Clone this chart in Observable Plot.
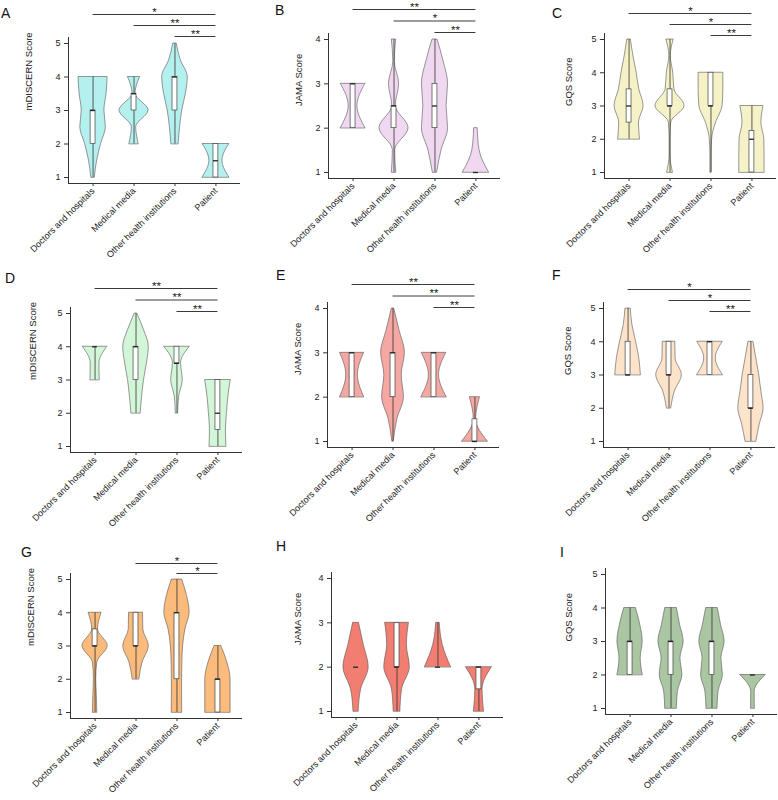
<!DOCTYPE html>
<html><head><meta charset="utf-8">
<script src="https://cdn.jsdelivr.net/npm/d3@7"></script>
<script src="https://cdn.jsdelivr.net/npm/@observablehq/plot@0.6"></script>
<style>
html,body{margin:0;padding:0;background:#fff;overflow:hidden;}
#wrap{position:relative;width:778px;height:800px;font-family:"Liberation Sans",Arial,sans-serif;}
.panel{position:absolute;}
#letters{position:absolute;left:0;top:0;}
</style></head><body><div id="wrap"></div>
<script>
// ---------- DATA ----------
const categories = ["Doctors and hospitals", "Medical media", "Other health institutions", "Patient"];
const panelIds = ["A","B","C","D","E","F","G","H","I"];
const scoreLabels = ["mDISCERN Score", "JAMA Score", "GQS Score"]; // by column
const ticks5 = [1, 2, 3, 4, 5];
const ticks4 = [1, 2, 3, 4];
const fills = ["#b4f0ee", "#efd8f0", "#f4f2c6", "#d3f6d8", "#f4a7a3", "#fde3c9", "#fabb7c", "#f27e72", "#aac6a2"];

// violin profiles: relative half-widths at 0.5-score steps, starting at the violin minimum
const minA = [1, 2, 2, 1];
const densA = [[0.12, 0.28, 0.55, 0.88, 0.78, 0.93, 1.0], [0.32, 0.15, 1.0, 0.1, 0.42], [0.25, 0.35, 0.5, 0.75, 0.88, 0.4, 0.12], [0.92, 0.45, 0.92]];
const boxA = [[1, 2, 3, 3, 4], [2, 3, 3.5, 3.5, 4], [2, 3, 4, 4, 5], [1, 1, 1.5, 2, 2]]; // lo, q1, median, q3, hi
const sigA = [[1, 4, "*"], [2, 4, "**"], [3, 4, "**"]];

const minB = [2, 1, 1, 1];
const densB = [[0.85, 0.3, 0.85], [0.15, 0.08, 1.0, 0.12, 0.35, 0.05, 0.15], [0.15, 0.45, 0.9, 0.8, 0.9, 0.6, 0.17], [0.9, 0.25, 0.12]];
const boxB = [[2, 2, 3, 3, 3], [1, 2, 2.5, 2.5, 4], [1, 2, 2.5, 3, 4], [1, 1, 1, 1, 1]];
const sigB = [[1, 4, "**"], [2, 4, "*"], [3, 4, "**"]];

const minC = [2, 1, 1, 1];
const densC = [[0.75, 0.68, 1.0, 0.7, 0.52, 0.3, 0.12], [0.2, 0.03, 0.03, 0.08, 1.0, 0.3, 0.22, 0.05, 0.25], [0.04, 0.04, 0.08, 0.35, 0.8, 0.85, 0.85], [0.87, 0.87, 0.85, 0.65, 0.8]];
const boxC = [[2, 2.5, 3, 3.5, 5], [1, 3, 3, 3.5, 5], [1, 3, 3, 4, 4], [1, 1, 2, 2.25, 3]];
const sigC = [[1, 4, "*"], [2, 4, "*"], [3, 4, "**"]];

const minD = [3, 2, 2, 1];
const densD = [[0.32, 0.3, 0.85], [0.32, 0.42, 0.55, 0.75, 0.88, 0.55, 0.08], [0.08, 0.15, 0.4, 0.28, 0.88], [0.58, 0.55, 0.62, 0.72, 0.88]];
const boxD = [[3, 4, 4, 4, 4], [2, 3, 4, 4, 5], [2, 3.5, 3.5, 4, 4], [1, 1.5, 2, 3, 3]];
const sigD = [[1, 4, "**"], [2, 4, "**"], [3, 4, "**"]];

const minE = [2, 1, 2, 1];
const densE = [[0.83, 0.4, 0.83], [0.05, 0.3, 0.75, 0.6, 0.82, 0.45, 0.08], [0.87, 0.35, 0.85], [0.88, 0.08, 0.35]];
const boxE = [[2, 2, 3, 3, 3], [1, 2, 3, 3, 4], [2, 2, 3, 3, 3], [1, 1, 1, 1.5, 2]];
const sigE = [[1, 4, "**"], [2, 4, "**"], [3, 4, "**"]];

const minF = [3, 2, 3, 1];
const densF = [[0.88, 0.77, 0.55, 0.3, 0.18], [0.15, 0.4, 0.88, 0.45, 0.43], [0.88, 0.4, 0.88], [0.37, 0.6, 0.87, 0.72, 0.57, 0.37, 0.17]];
const boxF = [[3, 3, 3, 4, 5], [2, 3, 3, 4, 4], [3, 3, 4, 4, 4], [1, 2, 2, 3, 4]];
const sigF = [[1, 4, "*"], [2, 4, "*"], [3, 4, "**"]];

const minG = [1, 2, 1, 1];
const densG = [[0.15, 0.12, 0.08, 0.15, 0.87, 0.2, 0.45], [0.23, 0.45, 0.88, 0.5, 0.48], [0.36, 0.35, 0.35, 0.37, 0.42, 0.58, 0.87, 0.7, 0.35], [0.87, 0.87, 0.87, 0.65, 0.23]];
const boxG = [[1, 3, 3, 3.5, 4], [2, 3, 3, 4, 4], [1, 2, 4, 4, 5], [1, 1, 2, 2, 3]];
const sigG = [[2, 4, "*"], [3, 4, "*"]];

const minH = [1, 1, 2, 1];
const densH = [[0.18, 0.35, 0.87, 0.53, 0.2], [0.23, 0.35, 0.88, 0.68, 0.82], [0.9, 0.33, 0.12], [0.35, 0.25, 0.9]];
const boxH = [[2, 2, 2, 2, 2], [1, 2, 2, 3, 3], [2, 2, 2, 2, 3], [1, 1.5, 2, 2, 2]];
const sigH = [];

const minI = [2, 1, 1, 1];
const densI = [[0.87, 0.73, 0.87, 0.7, 0.4], [0.4, 0.47, 0.78, 0.65, 0.87, 0.62, 0.4], [0.38, 0.45, 0.75, 0.65, 0.87, 0.62, 0.4], [0.13, 0.12, 0.88]];
const boxI = [[2, 2, 3, 3, 4], [1, 2, 3, 3, 4], [1, 2, 3, 3, 4], [2, 2, 2, 2, 2]];
const sigI = [];

// ---------- LAYOUT (page pixels) ----------
const layout = {
  A: {ax: 68,  top: 43,  bot: 177, lab: 40, bBase: 7,  bStep: 11,   let: [1, 18]},
  B: {ax: 328, top: 39,  bot: 172, lab: 30, bBase: 7,  bStep: 11.5, let: [275, 15]},
  C: {ax: 604, top: 39,  bot: 172, lab: 36, bBase: 4,  bStep: 11,   let: [552, 18]},
  D: {ax: 70,  top: 313, bot: 446, lab: 38, bBase: 2,  bStep: 11.5, let: [5, 283]},
  E: {ax: 327, top: 308, bot: 441, lab: 30, bBase: 1,  bStep: 11.5, let: [276, 280]},
  F: {ax: 603, top: 308, bot: 441, lab: 36, bBase: -3, bStep: 11,   let: [552, 280]},
  G: {ax: 70,  top: 579, bot: 712, lab: 40, bBase: 6,  bStep: 10,   let: [21, 557]},
  H: {ax: 331, top: 578, bot: 711, lab: 34, bBase: 0,  bStep: 11,   let: [276, 551]},
  I: {ax: 605, top: 574, bot: 708, lab: 37, bBase: 0,  bStep: 11,   let: [560, 557]}
};

const sources = {
  A: [minA, densA, boxA, sigA], B: [minB, densB, boxB, sigB], C: [minC, densC, boxC, sigC],
  D: [minD, densD, boxD, sigD], E: [minE, densE, boxE, sigE], F: [minF, densF, boxF, sigF],
  G: [minG, densG, boxG, sigG], H: [minH, densH, boxH, sigH], I: [minI, densI, boxI, sigI]
};

const FONT = '"Liberation Sans", Arial, sans-serif';
const HALF = 0.355;   // x-units for a full-width violin half
const BOXW = 0.06;
const MT = 40, MB = 85, ML = 68, MR = 4, INSET = 6;

const wrap = document.getElementById("wrap");

panelIds.forEach((id, p) => {
  const L = layout[id];
  const [mins, dens, boxes, sigs] = sources[id];
  const col = p % 3;
  const ticks = col === 1 ? ticks4 : ticks5;
  const ymax = ticks[ticks.length - 1];
  const dataH = L.bot - L.top;
  const height = MT + INSET + dataH + INSET + MB;

  const vrows = dens.flatMap((ws, i) => ws.map((w, j) => ({cat: categories[i], pos: i + 1, y: mins[i] + 0.5 * j, w})));
  const brows = boxes.map((b, i) => ({pos: i + 1, lo: b[0], q1: b[1], med: b[2], q3: b[3], hi: b[4]}));
  const n = sigs.length;

  const bracketMarks = sigs.flatMap((s, k) => {
    const off = L.bBase + L.bStep * (n - 1 - k);
    const d = {from: s[0], to: s[1], label: s[2]};
    return [
      Plot.ruleY([d], {y: ymax, x1: "from", x2: "to", dy: -off, stroke: "#3a3a3a", strokeWidth: 1}),
      Plot.text([d], {x: v => (v.from + v.to) / 2, y: ymax, text: "label", dy: -off + 1, lineAnchor: "bottom", fontSize: 11.5, fill: "#1a1a1a"})
    ];
  });

  const chart = Plot.plot({
    width: ML + 172 + MR,
    height,
    marginLeft: ML, marginRight: MR, marginTop: MT, marginBottom: MB,
    style: {background: "transparent", overflow: "visible", fontFamily: FONT, color: "#222"},
    x: {domain: [0.4, 4.6], axis: null},
    y: {domain: [1, ymax], insetTop: INSET, insetBottom: INSET, axis: null},
    marks: [
      Plot.areaX(vrows, {x1: d => d.pos - d.w * HALF, x2: d => d.pos + d.w * HALF, y: "y", z: "cat", fill: fills[p], stroke: "#555", strokeWidth: 0.6, curve: "monotone-y"}),
      Plot.ruleX(brows, {x: "pos", y1: "lo", y2: "hi", stroke: "#333", strokeWidth: 0.8}),
      Plot.rect(brows.filter(b => b.q3 > b.q1), {x1: d => d.pos - BOXW, x2: d => d.pos + BOXW, y1: "q1", y2: "q3", fill: "white", stroke: "#444", strokeWidth: 0.7}),
      Plot.ruleY(brows, {y: "med", x1: d => d.pos - BOXW, x2: d => d.pos + BOXW, stroke: "#222", strokeWidth: 1.3}),
      Plot.ruleX([0.4], {stroke: "#333", strokeWidth: 1}),
      Plot.ruleY([1], {dy: INSET, stroke: "#333", strokeWidth: 1}),
      Plot.axisY({ticks, tickFormat: d => d, tickSize: 4, tickPadding: 4, fontSize: 9, label: null, stroke: "#333", fill: "#222"}),
      Plot.axisX({ticks: [1, 2, 3, 4], tickFormat: i => categories[i - 1], tickRotate: -45, tickSize: 3, tickPadding: 3, fontSize: 9, label: null, stroke: "#333", fill: "#1a1a1a"}),
      Plot.text([scoreLabels[col]], {frameAnchor: "left", rotate: -90, dx: -L.lab, text: d => d, fontSize: 9.5, fill: "#1a1a1a"}),
      ...bracketMarks
    ]
  });
  chart.classList.add("panel");
  chart.style.left = (L.ax - ML) + "px";
  chart.style.top = (L.top - INSET - MT) + "px";
  chart.style.position = "absolute";
  wrap.appendChild(chart);
});

// panel letters
const ns = "http://www.w3.org/2000/svg";
const lsvg = document.createElementNS(ns, "svg");
lsvg.setAttribute("id", "letters");
lsvg.setAttribute("width", 778);
lsvg.setAttribute("height", 800);
lsvg.style.pointerEvents = "none";
panelIds.forEach(id => {
  const t = document.createElementNS(ns, "text");
  t.setAttribute("x", layout[id].let[0]);
  t.setAttribute("y", layout[id].let[1]);
  t.setAttribute("font-family", FONT);
  t.setAttribute("font-size", 14);
  t.setAttribute("fill", "#111");
  t.textContent = id;
  lsvg.appendChild(t);
});
wrap.appendChild(lsvg);
</script>
</body></html>
